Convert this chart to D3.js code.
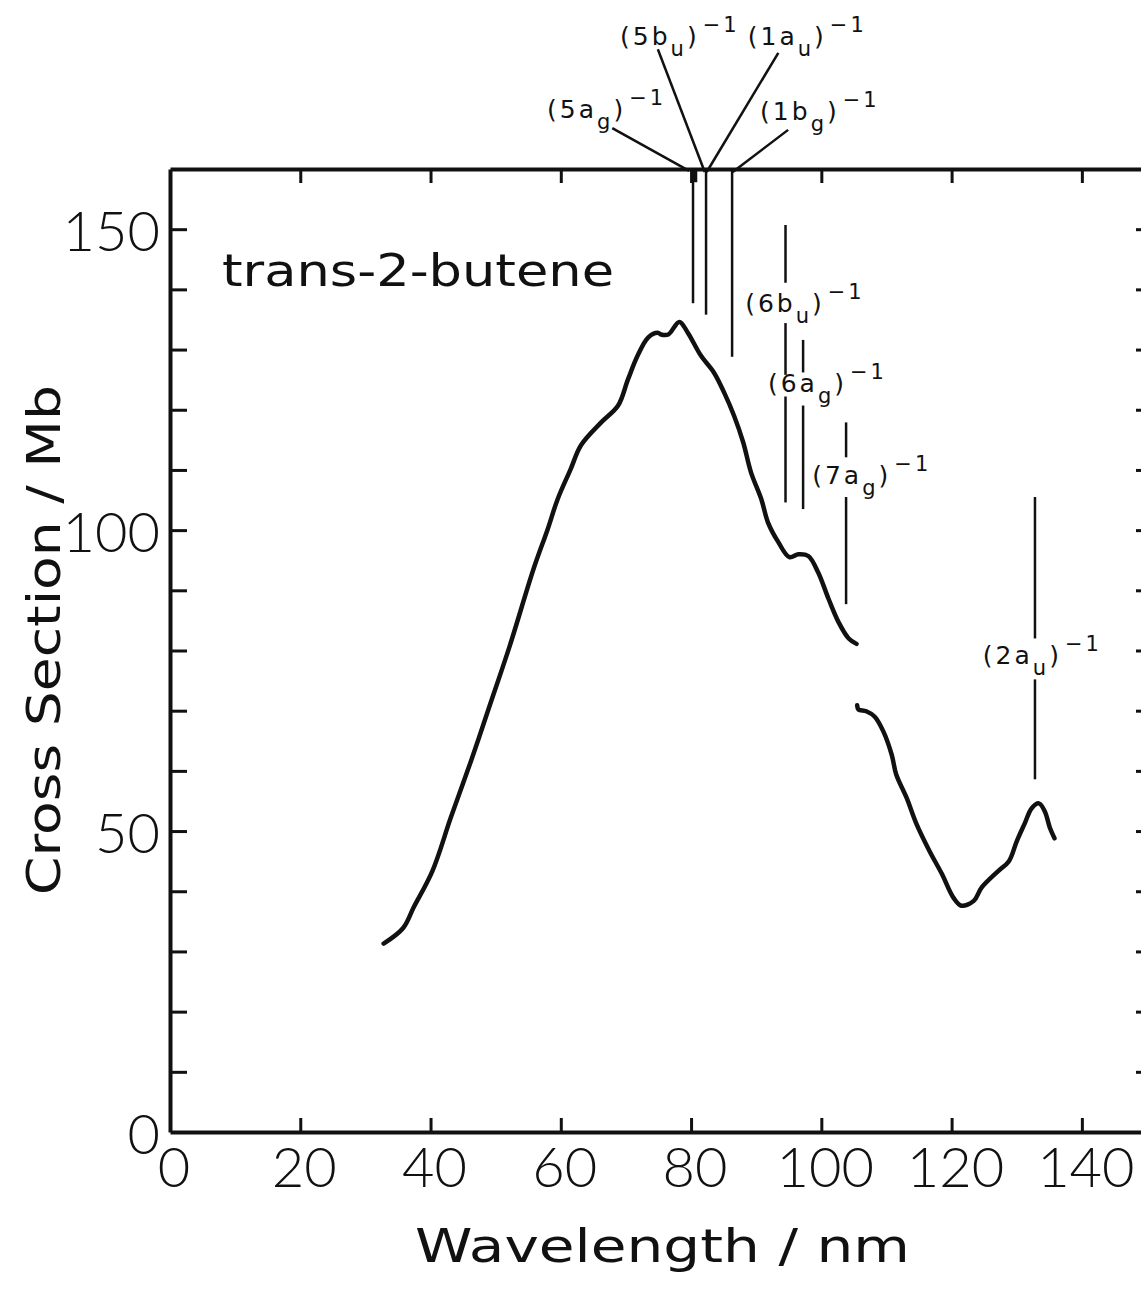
<!DOCTYPE html>
<html>
<head>
<meta charset="utf-8">
<script src="https://cdn.jsdelivr.net/npm/d3@7"></script>
<style>
  html, body { margin: 0; padding: 0; background: #fff; }
  svg { display: block; }
</style>
</head>
<body>
<svg id="chart" width="1141" height="1296"></svg>
<script>
// Photoabsorption cross section of trans-2-butene (Mb) vs wavelength (nm)

// Main band, short-wavelength side up to the gap near 105 nm
const wavelengthA = [32.8, 35.8, 37.4, 40.3, 43.1, 46.2, 49.1, 52.2, 55.8, 58.0, 59.5, 61.5,
  63.1, 66.2, 68.8, 70.3, 71.8, 73.4, 74.9, 75.4, 76.5, 78.2, 79.5, 81.5, 83.5, 85.1, 86.6, 88.0,
  89.2, 90.8, 91.8, 93.4, 95.1, 96.5, 98.0, 99.5, 101.1, 102.6, 104.2, 105.4];
const crossSectionA = [31.3, 33.9, 37.3, 43.4, 52.2, 61.6, 70.9, 80.9, 93.5, 100.2, 105.1, 110.1,
  114.1, 117.9, 120.7, 125.0, 129.0, 132.0, 132.8, 132.5, 132.5, 134.6, 132.8, 129.0, 126.2, 122.8, 119.0, 114.6,
  109.6, 105.1, 101.3, 98.0, 95.5, 96.0, 95.7, 93.0, 88.6, 84.8, 82.0, 81.1];

// Long-wavelength segment, measured separately
const wavelengthB = [105.5, 105.7, 106.9, 108.2, 109.5, 110.8, 111.5, 113.1, 114.6, 116.6, 118.5, 120.3, 121.5,
  123.4, 124.6, 127.2, 128.8, 130.0, 131.2, 132.3, 133.4, 134.3, 135.1, 135.8];
const crossSectionB = [70.9, 70.2, 69.9, 69.0, 66.6, 62.7, 59.4, 55.5, 51.2, 46.7, 42.9, 38.9, 37.6,
  38.4, 40.6, 43.4, 45.0, 48.3, 51.2, 53.8, 54.6, 53.3, 50.5, 48.8];

// Axis ticks
const xTickValues = [0, 20, 40, 60, 80, 100, 120, 140];
const yTickValues = [0, 10, 20, 30, 40, 50, 60, 70, 80, 90, 100, 110, 120, 130, 140, 150];
const yTickLabels = [0, 50, 100, 150];

// Ionization thresholds: wavelength and the cross-section spans of each marker line
const edgeWavelength = [80.3, 82.3, 86.3, 94.5, 97.2, 103.8, 132.8];
const edgeSpans = [
  [[160, 137.7]],
  [[160, 135.8]],
  [[160, 128.8]],
  [[150.7, 141.1], [134.4, 125.8], [122.2, 104.6]],
  [[131.6, 126.2], [120.7, 103.5]],
  [[117.9, 112.1], [105.5, 87.7]],
  [[105.5, 82.0], [75.2, 58.6]]
];

// Orbital labels (ion state): main part, subscript, anchor in data units (left, baseline)
const orbitalMain = ["5a", "5b", "1a", "1b", "6b", "6a", "7a", "2a"];
const orbitalSub = ["g", "u", "u", "g", "u", "g", "g", "u"];
const orbitalAnchorX = [57.9, 69.1, 88.7, 90.6, 88.3, 91.8, 98.6, 124.8];
const orbitalAnchorY = [168.5, 180.6, 180.6, 168.1, 136.2, 122.9, 107.7, 77.8];

// Leader lines from the upper labels to the axis: [x1, y1, x2, y2] in data units
const leaderLines = [
  [67.9, 166.8, 79.7, 159.7],
  [74.9, 179.9, 82.1, 159.5],
  [93.4, 179.3, 82.4, 159.5],
  [94.9, 166.5, 86.4, 159.5]
];

const svg = d3.select("#chart");

const x = d3.scaleLinear().domain([0, 150]).range([170, 1147]);
const y = d3.scaleLinear().domain([0, 160]).range([1132, 169]);

const ink = "#111";

// Frame axes with inward ticks
const bottomAxis = d3.axisBottom(x).tickValues(xTickValues.slice(1)).tickSize(-14).tickSizeOuter(0).tickFormat("");
const topAxis = d3.axisTop(x).tickValues(xTickValues.slice(1)).tickSize(-14).tickSizeOuter(0).tickFormat("");
const leftAxis = d3.axisLeft(y).tickValues(yTickValues.slice(1)).tickSize(-17).tickSizeOuter(0).tickFormat("");
const rightAxis = d3.axisRight(y).tickValues(yTickValues.slice(1)).tickSize(-11).tickSizeOuter(0).tickFormat("");

function styleAxis(g, w) {
  g.select(".domain").attr("stroke", ink).attr("stroke-width", w);
  g.selectAll(".tick line").attr("stroke", ink).attr("stroke-width", 3);
}

svg.append("g").attr("transform", `translate(0,${y(0)})`).call(bottomAxis).call(g => styleAxis(g, 4));
svg.append("g").attr("transform", `translate(0,${y(160)})`).call(topAxis).call(g => styleAxis(g, 4));
svg.append("g").attr("transform", `translate(${x(0)},0)`).call(leftAxis).call(g => styleAxis(g, 4));
svg.append("g").attr("transform", `translate(${x(150)},0)`).call(rightAxis).call(g => styleAxis(g, 4));

// Tick labels
const numFont = "Lato, 'DejaVu Sans', sans-serif";
svg.append("g").selectAll("text").data(xTickValues).join("text")
  .attr("x", d => x(d) + 4)
  .attr("y", y(0) + 55)
  .attr("text-anchor", "middle")
  .attr("font-family", numFont)
  .attr("font-weight", 300)
  .attr("font-size", 56)
  .attr("fill", ink)
  .text(d => d);

svg.append("g").selectAll("text").data(yTickLabels).join("text")
  .attr("x", 160)
  .attr("y", d => y(d) + 22)
  .attr("text-anchor", "end")
  .attr("font-family", numFont)
  .attr("font-weight", 300)
  .attr("font-size", 56)
  .attr("fill", ink)
  .text(d => d);

// Axis titles and compound name (wide lettering: glyphs stretched to the drawn widths)
const letterFont = "'DejaVu Sans', sans-serif";
svg.append("text")
  .attr("x", 415).attr("y", 1262)
  .attr("font-family", letterFont).attr("font-size", 46).attr("fill", ink)
  .attr("textLength", 495).attr("lengthAdjust", "spacingAndGlyphs")
  .text("Wavelength  / nm");

svg.append("text")
  .attr("transform", "translate(60,895) rotate(-90)")
  .attr("font-family", letterFont).attr("font-size", 46).attr("fill", ink)
  .attr("textLength", 510).attr("lengthAdjust", "spacingAndGlyphs")
  .text("Cross Section / Mb");

svg.append("text")
  .attr("x", 222).attr("y", 286)
  .attr("font-family", letterFont).attr("font-size", 44).attr("fill", ink)
  .attr("textLength", 392).attr("lengthAdjust", "spacingAndGlyphs")
  .text("trans-2-butene");

// Threshold marker lines
const edgeSegs = [];
edgeWavelength.forEach((wl, i) => edgeSpans[i].forEach(s => edgeSegs.push({ wl, a: s[0], b: s[1] })));
svg.append("g").selectAll("line").data(edgeSegs).join("line")
  .attr("x1", d => x(d.wl)).attr("x2", d => x(d.wl))
  .attr("y1", d => y(d.a)).attr("y2", d => y(d.b))
  .attr("stroke", ink).attr("stroke-width", 2.5);

// short heavy stub under the top axis on the first threshold
svg.append("line")
  .attr("x1", x(edgeWavelength[0]) + 2).attr("x2", x(edgeWavelength[0]) + 2)
  .attr("y1", y(160)).attr("y2", y(157.8))
  .attr("stroke", ink).attr("stroke-width", 4.5);

// Leader lines
svg.append("g").selectAll("line").data(leaderLines).join("line")
  .attr("x1", d => x(d[0])).attr("y1", d => y(d[1]))
  .attr("x2", d => x(d[2])).attr("y2", d => y(d[3]))
  .attr("stroke", ink).attr("stroke-width", 2.5);

// Orbital labels: (main_sub)^-1
const lbl = svg.append("g").selectAll("text").data(orbitalMain).join("text")
  .attr("x", (d, i) => x(orbitalAnchorX[i]))
  .attr("y", (d, i) => y(orbitalAnchorY[i]))
  .attr("font-family", letterFont)
  .attr("font-size", 25)
  .attr("letter-spacing", 3)
  .attr("fill", ink);
lbl.append("tspan").text(d => "(" + d);
lbl.append("tspan").attr("dy", 11).attr("font-size", 21).text((d, i) => orbitalSub[i]);
lbl.append("tspan").attr("dy", -11).text(")");
lbl.append("tspan").attr("dy", -13).attr("dx", 3).attr("font-size", 21).text("\u22121");

// Cross-section curve
const line = d3.line()
  .x(d => x(d[0]))
  .y(d => y(d[1]))
  .curve(d3.curveCatmullRom.alpha(0.5));

const segA = wavelengthA.map((w, i) => [w, crossSectionA[i]]);
const segB = wavelengthB.map((w, i) => [w, crossSectionB[i]]);

svg.append("g").selectAll("path").data([segA, segB]).join("path")
  .attr("d", line)
  .attr("fill", "none")
  .attr("stroke", ink)
  .attr("stroke-width", 4.5)
  .attr("stroke-linejoin", "round")
  .attr("stroke-linecap", "round");
</script>
</body>
</html>
